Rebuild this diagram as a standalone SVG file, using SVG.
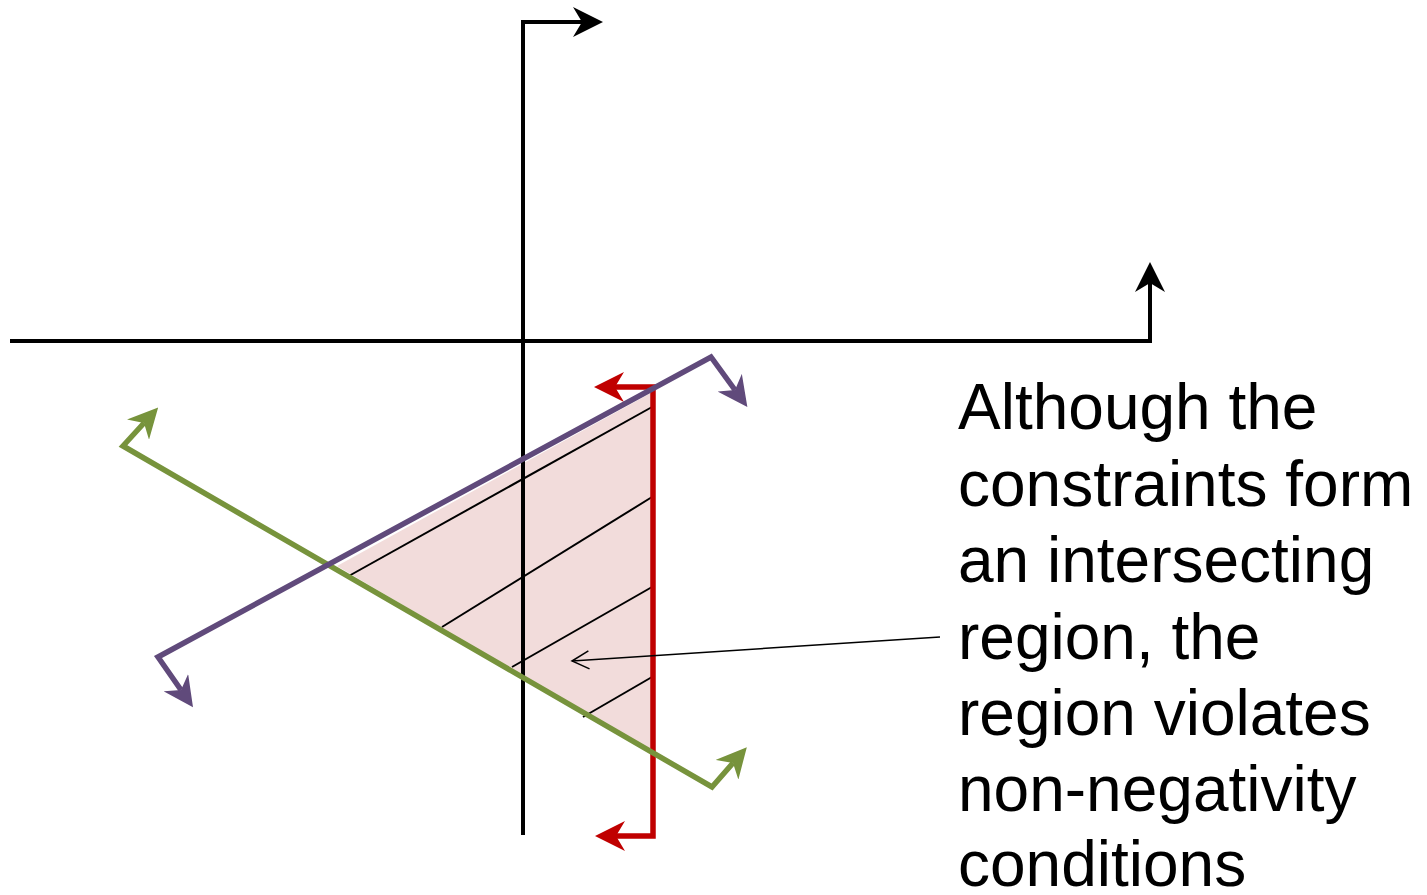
<svg xmlns="http://www.w3.org/2000/svg" width="1427" height="895" viewBox="0 0 1427 895">
  <style>
    .axis { fill: none; stroke: #000; stroke-width: 4; }
    .purple { fill: none; stroke: #604a7b; stroke-width: 5.5; }
    .green { fill: none; stroke: #77933c; stroke-width: 5.5; }
    .red { fill: none; stroke: #c00000; stroke-width: 5.5; }
    .hatch { stroke: #000; stroke-width: 2; }
    .callout { fill: none; stroke: #000; stroke-width: 1.5; }
    .label { font-family: "Liberation Sans", Arial, sans-serif; font-size: 64px; fill: #000; }
  </style>
  <defs>
    <marker id="ahBlack" viewBox="0 0 30 30" refX="9" refY="15" markerWidth="30" markerHeight="30" markerUnits="userSpaceOnUse" orient="auto-start-reverse">
      <path d="M0,0 L30,15 L0,30 L9,15 Z" fill="#000"/>
    </marker>
    <marker id="ahPurple" viewBox="0 0 30 30" refX="9" refY="15" markerWidth="30" markerHeight="30" markerUnits="userSpaceOnUse" orient="auto-start-reverse">
      <path d="M0,0 L30,15 L0,30 L9,15 Z" fill="#604a7b"/>
    </marker>
    <marker id="ahGreen" viewBox="0 0 30 30" refX="9" refY="15" markerWidth="30" markerHeight="30" markerUnits="userSpaceOnUse" orient="auto-start-reverse">
      <path d="M0,0 L30,15 L0,30 L9,15 Z" fill="#77933c"/>
    </marker>
    <marker id="ahRed" viewBox="0 0 30 30" refX="9" refY="15" markerWidth="30" markerHeight="30" markerUnits="userSpaceOnUse" orient="auto-start-reverse">
      <path d="M0,0 L30,15 L0,30 L9,15 Z" fill="#c00000"/>
    </marker>
    <marker id="ahOpen" viewBox="0 0 20 20" refX="18" refY="10" markerWidth="20" markerHeight="20" markerUnits="userSpaceOnUse" orient="auto">
      <path d="M1,1 L18,10 L1,19" fill="none" stroke="#000" stroke-width="1.5"/>
    </marker>
  </defs>

  <g id="region">
    <polygon points="651,393 337,566 651,752" fill="#f2dcdb"/>
    <line class="hatch" x1="347" y1="577" x2="652" y2="407"/>
    <line class="hatch" x1="442" y1="627" x2="652" y2="497"/>
    <line class="hatch" x1="512" y1="667" x2="652" y2="587"/>
    <line class="hatch" x1="583" y1="717" x2="652" y2="677"/>
  </g>

  <g id="axes">
    <polyline id="x-axis" class="axis" points="10,341 1150,341 1150,283" marker-end="url(#ahBlack)"/>
    <polyline id="y-axis" class="axis" points="523,835 523,22 582,22" marker-end="url(#ahBlack)"/>
  </g>

  <g id="connectors">
    <polyline id="red-constraint" class="red" points="615,387 653,387 653,836 616,836" marker-start="url(#ahRed)" marker-end="url(#ahRed)"/>
    <polyline id="green-constraint" class="green" points="144,423 123,446 712,787 733,763" marker-start="url(#ahGreen)" marker-end="url(#ahGreen)"/>
    <polyline id="purple-constraint" class="purple" points="181,690 158,657 711,357 735,390" marker-start="url(#ahPurple)" marker-end="url(#ahPurple)"/>
    <line id="callout-arrow" class="callout" x1="940" y1="637" x2="572" y2="661" marker-end="url(#ahOpen)"/>
  </g>

  <g id="label">
    <text class="label" x="958" y="429">Although the</text>
    <text class="label" x="958" y="506">constraints form</text>
    <text class="label" x="958" y="582">an intersecting</text>
    <text class="label" x="958" y="659">region, the</text>
    <text class="label" x="958" y="735">region violates</text>
    <text class="label" x="958" y="811">non-negativity</text>
    <text class="label" x="958" y="886">conditions</text>
  </g>
</svg>
